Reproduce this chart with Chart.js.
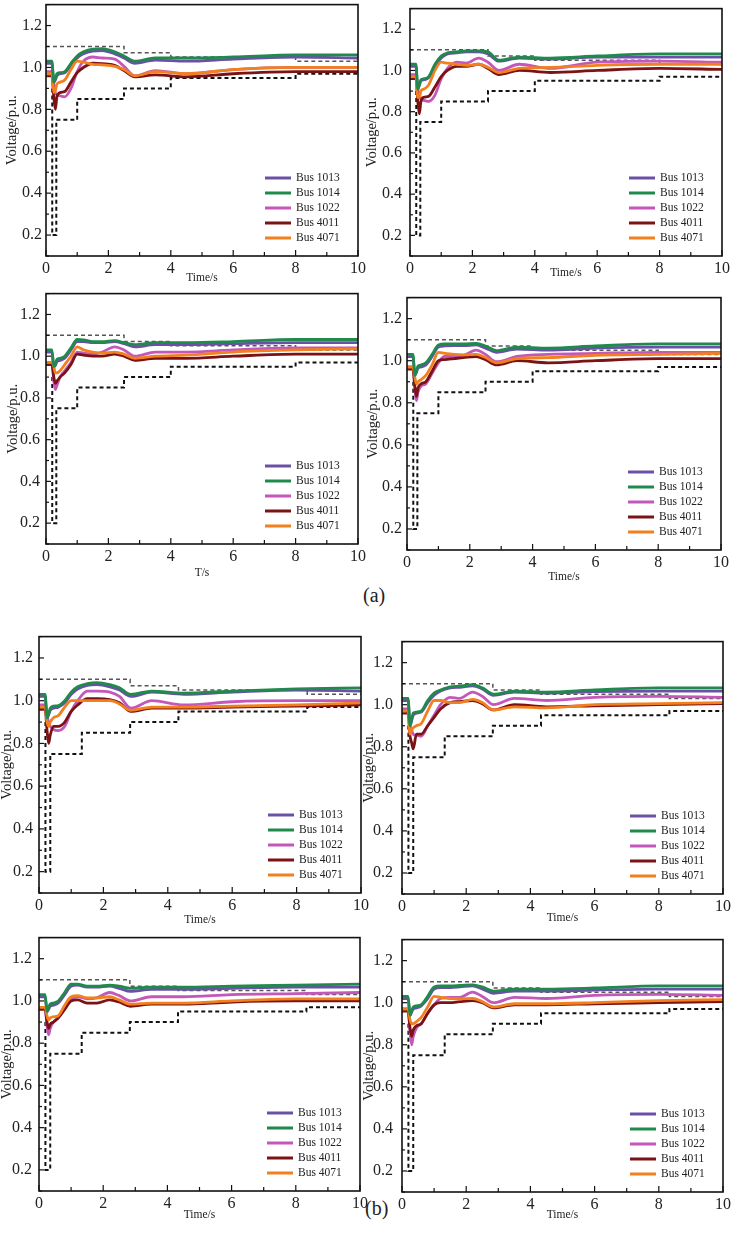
<!DOCTYPE html>
<html lang="en">
<head>
<meta charset="UTF-8">
<title>Bus voltages</title>
<script src="https://cdn.jsdelivr.net/npm/chart.js@4.4.0/dist/chart.umd.min.js"></script>
<style>
  body { margin: 0; background: #fff; }
  #wrap { position: relative; width: 733px; height: 1237px; overflow: hidden; }
  canvas { position: absolute; }
  .tag { position: absolute; font-family: "Liberation Serif", serif; font-size: 20px; color: #222; }
</style>
</head>
<body>
<div id="wrap">
  <div class="tag" style="left:363px;top:584px">(a)</div>
  <div class="tag" style="left:365px;top:1197px">(b)</div>
</div>
<script>
// common time grid (s)
const t = [0, 0.19, 0.25, 0.3, 0.35, 0.45, 0.6, 0.8, 1.0, 1.2, 1.5, 1.8, 2.2, 2.5, 2.85, 3.5, 4.5, 6, 8, 10];
const buses = ['1013', '1014', '1022', '4011', '4071'];

// (a) top left
const a1_1013 = [1.02, 1.02, 0.93, 0.94, 0.96, 0.97, 0.975, 1.01, 1.045, 1.065, 1.078, 1.08, 1.065, 1.045, 1.02, 1.035, 1.03, 1.04, 1.05, 1.045];
const a1_1014 = [1.03, 1.03, 0.93, 0.95, 0.97, 0.975, 0.98, 1.02, 1.055, 1.075, 1.088, 1.09, 1.075, 1.055, 1.03, 1.045, 1.045, 1.05, 1.06, 1.06];
const a1_1022 = [0.98, 0.98, 0.92, 0.88, 0.87, 0.865, 0.86, 0.9, 0.98, 1.03, 1.05, 1.045, 1.04, 1.005, 0.96, 0.985, 0.97, 0.99, 1.0, 1.0];
const a1_4011 = [0.96, 0.96, 0.86, 0.8, 0.86, 0.88, 0.885, 0.93, 0.975, 1.0, 1.02, 1.018, 1.01, 0.985, 0.955, 0.965, 0.955, 0.97, 0.98, 0.98];
const a1_4071 = [0.97, 0.97, 0.88, 0.89, 0.92, 0.93, 0.94, 0.99, 1.03, 1.025, 1.015, 1.012, 1.005, 0.99, 0.96, 0.98, 0.97, 0.99, 1.0, 1.0];
// (a) top right
const a2_1013 = [1.02, 1.02, 0.91, 0.93, 0.95, 0.955, 0.965, 1.02, 1.06, 1.08, 1.085, 1.09, 1.09, 1.08, 1.045, 1.06, 1.055, 1.065, 1.065, 1.065];
const a2_1014 = [1.03, 1.03, 0.91, 0.93, 0.955, 0.96, 0.97, 1.03, 1.07, 1.085, 1.09, 1.095, 1.095, 1.09, 1.05, 1.065, 1.06, 1.07, 1.08, 1.08];
const a2_1022 = [0.98, 0.98, 0.91, 0.88, 0.86, 0.855, 0.85, 0.88, 0.96, 1.01, 1.04, 1.035, 1.06, 1.04, 1.0, 1.03, 1.01, 1.04, 1.045, 1.04];
const a2_4011 = [0.96, 0.96, 0.85, 0.79, 0.85, 0.87, 0.875, 0.92, 0.97, 1.0, 1.02, 1.02, 1.03, 1.01, 0.98, 1.0, 0.99, 1.0, 1.01, 1.005];
const a2_4071 = [0.97, 0.97, 0.87, 0.87, 0.9, 0.91, 0.93, 1.0, 1.04, 1.035, 1.03, 1.025, 1.03, 1.015, 0.99, 1.01, 1.015, 1.025, 1.03, 1.03];
// (a) bottom left
const a3_1013 = [1.02, 1.02, 0.95, 0.955, 0.975, 0.98, 0.99, 1.03, 1.07, 1.07, 1.065, 1.065, 1.07, 1.06, 1.045, 1.055, 1.055, 1.06, 1.065, 1.065];
const a3_1014 = [1.03, 1.03, 0.95, 0.96, 0.985, 0.99, 1.0, 1.04, 1.08, 1.078, 1.07, 1.07, 1.075, 1.065, 1.055, 1.065, 1.065, 1.07, 1.08, 1.08];
const a3_1022 = [0.97, 0.97, 0.88, 0.84, 0.86, 0.9, 0.93, 0.97, 1.02, 1.015, 1.01, 1.02, 1.045, 1.03, 1.0, 1.02, 1.02, 1.03, 1.04, 1.04];
const a3_4011 = [0.96, 0.96, 0.9, 0.87, 0.88, 0.9, 0.92, 0.96, 1.01, 1.005, 1.0, 1.0, 1.01, 1.0, 0.98, 0.99, 0.99, 1.0, 1.01, 1.01];
const a3_4071 = [0.97, 0.97, 0.95, 0.92, 0.92, 0.93, 0.96, 1.0, 1.045, 1.03, 1.02, 1.015, 1.02, 1.01, 0.99, 1.0, 1.005, 1.02, 1.03, 1.035];
// (a) bottom right
const a4_1013 = [1.02, 1.02, 0.93, 0.945, 0.965, 0.97, 0.98, 1.02, 1.065, 1.07, 1.072, 1.072, 1.075, 1.06, 1.04, 1.055, 1.05, 1.06, 1.065, 1.065];
const a4_1014 = [1.03, 1.03, 0.93, 0.95, 0.975, 0.98, 0.99, 1.03, 1.075, 1.08, 1.08, 1.08, 1.082, 1.07, 1.048, 1.065, 1.06, 1.07, 1.08, 1.08];
const a4_1022 = [0.97, 0.97, 0.87, 0.81, 0.85, 0.88, 0.89, 0.94, 0.99, 1.02, 1.02, 1.025, 1.05, 1.03, 0.995, 1.02, 1.03, 1.035, 1.04, 1.04];
const a4_4011 = [0.96, 0.96, 0.88, 0.83, 0.87, 0.89, 0.9, 0.95, 1.0, 1.005, 1.01, 1.015, 1.02, 1.005, 0.98, 1.0, 0.99, 1.0, 1.01, 1.01];
const a4_4071 = [0.97, 0.97, 0.92, 0.89, 0.9, 0.91, 0.93, 0.98, 1.04, 1.035, 1.03, 1.028, 1.03, 1.015, 0.99, 1.01, 1.015, 1.025, 1.03, 1.035];
// (b) top left
const b1_1013 = [1.02, 1.02, 0.92, 0.935, 0.955, 0.965, 0.97, 0.99, 1.03, 1.055, 1.072, 1.075, 1.065, 1.05, 1.02, 1.04, 1.03, 1.04, 1.05, 1.045];
const b1_1014 = [1.03, 1.03, 0.92, 0.94, 0.965, 0.975, 0.977, 1.0, 1.04, 1.065, 1.08, 1.085, 1.075, 1.06, 1.03, 1.045, 1.035, 1.045, 1.055, 1.06];
const b1_1022 = [0.98, 0.98, 0.93, 0.9, 0.88, 0.865, 0.86, 0.88, 0.95, 1.0, 1.045, 1.045, 1.04, 1.02, 0.965, 1.0, 0.98, 0.995, 1.0, 1.0];
const b1_4011 = [0.96, 0.96, 0.86, 0.8, 0.84, 0.88, 0.88, 0.9, 0.95, 0.98, 1.01, 1.01, 1.005, 0.99, 0.95, 0.965, 0.965, 0.97, 0.975, 0.98];
const b1_4071 = [0.97, 0.97, 0.9, 0.88, 0.9, 0.92, 0.93, 0.97, 1.0, 1.0, 1.0, 1.0, 1.0, 0.985, 0.955, 0.97, 0.97, 0.975, 0.98, 0.99];
// (b) top right
const b2_1013 = [1.02, 1.02, 0.9, 0.925, 0.95, 0.96, 0.965, 1.01, 1.045, 1.065, 1.08, 1.083, 1.09, 1.075, 1.045, 1.06, 1.055, 1.062, 1.065, 1.065];
const b2_1014 = [1.03, 1.03, 0.9, 0.93, 0.96, 0.965, 0.97, 1.02, 1.055, 1.07, 1.085, 1.088, 1.095, 1.08, 1.05, 1.065, 1.06, 1.07, 1.08, 1.08];
const b2_1022 = [0.98, 0.98, 0.9, 0.88, 0.86, 0.855, 0.85, 0.9, 0.95, 1.0, 1.035, 1.03, 1.06, 1.04, 1.0, 1.03, 1.02, 1.035, 1.04, 1.035];
const b2_4011 = [0.96, 0.96, 0.85, 0.82, 0.79, 0.86, 0.86, 0.9, 0.94, 0.98, 1.01, 1.015, 1.02, 1.005, 0.975, 1.0, 0.99, 0.995, 1.0, 1.005];
const b2_4071 = [0.97, 0.97, 0.86, 0.88, 0.89, 0.9, 0.91, 0.97, 1.02, 1.02, 1.01, 1.01, 1.025, 1.01, 0.975, 0.99, 0.985, 1.0, 1.005, 1.01];
// (b) bottom left
const b3_1013 = [1.02, 1.02, 0.95, 0.96, 0.975, 0.98, 0.99, 1.03, 1.07, 1.075, 1.065, 1.065, 1.07, 1.06, 1.045, 1.055, 1.055, 1.06, 1.065, 1.065];
const b3_1014 = [1.03, 1.03, 0.95, 0.97, 0.985, 0.99, 1.0, 1.04, 1.08, 1.08, 1.07, 1.07, 1.075, 1.07, 1.06, 1.065, 1.065, 1.07, 1.075, 1.08];
const b3_1022 = [0.97, 0.97, 0.88, 0.84, 0.87, 0.9, 0.92, 0.97, 1.01, 1.02, 1.01, 1.015, 1.04, 1.025, 1.0, 1.02, 1.02, 1.03, 1.035, 1.04];
const b3_4011 = [0.96, 0.96, 0.9, 0.87, 0.89, 0.9, 0.92, 0.96, 1.0, 1.005, 0.99, 0.99, 1.005, 0.995, 0.975, 0.985, 0.985, 0.995, 1.0, 1.0];
const b3_4071 = [0.97, 0.97, 0.93, 0.91, 0.92, 0.925, 0.93, 0.98, 1.02, 1.025, 1.015, 1.015, 1.02, 1.005, 0.985, 0.99, 0.99, 1.0, 1.01, 1.01];
// (b) bottom right
const b4_1013 = [1.02, 1.02, 0.94, 0.955, 0.97, 0.975, 0.985, 1.02, 1.065, 1.072, 1.072, 1.075, 1.08, 1.065, 1.045, 1.055, 1.055, 1.06, 1.065, 1.065];
const b4_1014 = [1.03, 1.03, 0.94, 0.96, 0.98, 0.985, 0.99, 1.03, 1.075, 1.08, 1.08, 1.082, 1.085, 1.075, 1.055, 1.065, 1.065, 1.07, 1.08, 1.08];
const b4_1022 = [0.97, 0.97, 0.86, 0.8, 0.84, 0.88, 0.9, 0.95, 0.99, 1.02, 1.025, 1.025, 1.05, 1.03, 1.0, 1.025, 1.02, 1.035, 1.04, 1.035];
const b4_4011 = [0.96, 0.96, 0.88, 0.84, 0.87, 0.89, 0.9, 0.95, 0.99, 1.0, 1.0, 1.005, 1.01, 1.0, 0.975, 0.99, 0.99, 0.995, 1.0, 1.005];
const b4_4071 = [0.97, 0.97, 0.92, 0.9, 0.9, 0.91, 0.93, 0.98, 1.03, 1.025, 1.02, 1.018, 1.02, 1.005, 0.98, 0.995, 0.995, 1.0, 1.01, 1.015];

// voltage limit envelopes (step lines)
const lowA_t = [0.2, 0.2, 0.33, 1, 2.5, 4, 8, 10];
const lowB_t = [0.2, 0.2, 0.35, 1.33, 2.83, 4.33, 8.33, 10];
const low_v = [0.9, 0.2, 0.2, 0.75, 0.85, 0.9, 0.95, 0.97];
const upA_t = [0, 2.5, 4, 8, 10];
const upB_t = [0, 2.83, 4.33, 8.33, 10];
const up_v = [1.1, 1.1, 1.07, 1.05, 1.03];

const colors = ['#6a50a6', '#1f8a4c', '#c457ba', '#7b1214', '#f2801f'];
const drawOrder = [3, 1, 5, 4, 2];
const serif = '"Liberation Serif", "Times New Roman", serif';

const panels = [
  { box: [46, 3, 358, 256], cl: 0, xt: 'Time/s', xo: 22, yp: 4, yx: 12, v: [a1_1013, a1_1014, a1_1022, a1_4011, a1_4071], lt: lowA_t, ut: upA_t },
  { box: [410, 3, 722, 256], cl: 362, xt: 'Time/s', xo: 17, yp: 8, yx: 372, v: [a2_1013, a2_1014, a2_1022, a2_4011, a2_4071], lt: lowA_t, ut: upA_t },
  { box: [46, 290, 358, 544], cl: 0, xt: 'T/s', xo: 29, yp: 6, yx: 13, v: [a3_1013, a3_1014, a3_1022, a3_4011, a3_4071], lt: lowA_t, ut: upA_t },
  { box: [407, 295, 721, 550], cl: 362, xt: 'Time/s', xo: 27, yp: 5, yx: 373, v: [a4_1013, a4_1014, a4_1022, a4_4011, a4_4071], lt: lowA_t, ut: upA_t },
  { box: [39, 633, 361, 893], cl: 0, xt: 'Time/s', xo: 27, yp: 6, yx: 7.5, v: [b1_1013, b1_1014, b1_1022, b1_4011, b1_4071], lt: lowB_t, ut: upB_t },
  { box: [402, 635, 723, 894], cl: 362, xt: 'Time/s', xo: 24, yp: 9, yx: 369, v: [b2_1013, b2_1014, b2_1022, b2_4011, b2_4071], lt: lowB_t, ut: upB_t },
  { box: [39, 933, 360, 1191], cl: 0, xt: 'Time/s', xo: 24, yp: 7, yx: 7.5, v: [b3_1013, b3_1014, b3_1022, b3_4011, b3_4071], lt: lowB_t, ut: upB_t },
  { box: [402, 933, 723, 1192], cl: 362, xt: 'Time/s', xo: 23, yp: 9, yx: 369, v: [b4_1013, b4_1014, b4_1022, b4_4011, b4_4071], lt: lowB_t, ut: upB_t }
];

// inward tick marks + closed frame
const frameTicks = {
  id: 'frameTicks',
  afterDraw(chart) {
    const { ctx, chartArea: a, scales: { x, y } } = chart;
    ctx.save();
    ctx.strokeStyle = '#111';
    ctx.lineWidth = 1.2;
    x.ticks.forEach(tk => {
      const px = x.getPixelForValue(tk.value);
      const len = Math.round(tk.value) % 2 === 0 ? 6 : 4;
      ctx.beginPath(); ctx.moveTo(px, a.bottom); ctx.lineTo(px, a.bottom - len); ctx.stroke();
    });
    y.ticks.forEach(tk => {
      const py = y.getPixelForValue(tk.value);
      const len = Math.round(tk.value * 10) % 2 === 0 ? 5 : 3;
      ctx.beginPath(); ctx.moveTo(a.left, py); ctx.lineTo(a.left + len, py); ctx.stroke();
    });
    ctx.lineWidth = 1.6;
    ctx.strokeRect(a.left, a.top, a.width, a.height);
    ctx.restore();
  }
};

// legend inside the plot, lower right
const busLegend = {
  id: 'busLegend',
  afterDatasetsDraw(chart) {
    const { ctx, chartArea: a } = chart;
    const items = chart.data.datasets.filter(d => d.label.startsWith('Bus'));
    ctx.save();
    ctx.font = '11.5px ' + serif;
    ctx.textBaseline = 'middle';
    items.forEach((d, i) => {
      const yy = a.bottom - 18 - (items.length - 1 - i) * 15;
      ctx.strokeStyle = d.borderColor;
      ctx.lineWidth = 3;
      ctx.beginPath(); ctx.moveTo(a.right - 93, yy); ctx.lineTo(a.right - 67, yy); ctx.stroke();
      ctx.fillStyle = '#222';
      ctx.fillText(d.label, a.right - 62, yy);
    });
    ctx.restore();
  }
};

const wrap = document.getElementById('wrap');

function makePanel(p) {
  const [l, tp, r, b] = p.box;
  const cv = document.createElement('canvas');
  cv.width = r + 14 - p.cl;
  cv.height = b - tp + 12 + 34;
  cv.style.left = p.cl + 'px';
  cv.style.top = (tp - 12) + 'px';
  wrap.appendChild(cv);

  const ds = buses.map((bus, i) => ({
    label: 'Bus ' + bus,
    data: t.map((tt, k) => ({ x: tt, y: p.v[i][k] })),
    borderColor: colors[i],
    borderWidth: 2.8,
    pointRadius: 0,
    cubicInterpolationMode: 'monotone',
    order: drawOrder[i]
  }));
  ds.push({
    label: 'lower', data: p.lt.map((tt, k) => ({ x: tt, y: low_v[k] })),
    borderColor: '#111', borderWidth: 2, borderDash: [4, 3], stepped: 'after', pointRadius: 0, order: 10
  });
  ds.push({
    label: 'upper', data: p.ut.map((tt, k) => ({ x: tt, y: up_v[k] })),
    borderColor: '#555', borderWidth: 1.5, borderDash: [4, 3], stepped: 'after', pointRadius: 0, order: 11
  });

  new Chart(cv, {
    type: 'line',
    data: { datasets: ds },
    options: {
      responsive: false,
      animation: false,
      layout: { padding: { top: 12, right: 14, left: 0, bottom: 0 } },
      plugins: { legend: { display: false }, tooltip: { enabled: false } },
      scales: {
        x: {
          type: 'linear', min: 0, max: 10,
          grid: { display: false, drawTicks: false },
          border: { display: false },
          ticks: {
            stepSize: 1, autoSkip: false, maxRotation: 0, padding: 3, color: '#222',
            font: { family: serif, size: 16 },
            callback: v => (Math.round(v) % 2 === 0 ? String(v) : '')
          },
          title: {
            display: true, text: p.xt, color: '#222',
            font: { family: serif, size: 11.5 },
            padding: { top: 0, bottom: 27.1 - p.xo }
          },
          afterFit: s => { s.height = 34; }
        },
        y: {
          min: 0.1, max: 1.3,
          grid: { display: false, drawTicks: false },
          border: { display: false },
          ticks: {
            stepSize: 0.1, autoSkip: false, padding: p.yp, color: '#222',
            font: { family: serif, size: 16 },
            callback: v => {
              const k = Math.round(v * 10);
              return (k % 2 === 0 && k >= 2 && k <= 12) ? (k / 10).toFixed(1) : '';
            }
          },
          title: {
            display: true, text: 'Voltage/p.u.', color: '#222',
            font: { family: serif, size: 14.5 },
            padding: { top: p.yx - p.cl - 8.7, bottom: 0 }
          },
          afterFit: s => { s.width = l - p.cl; }
        }
      }
    },
    plugins: [frameTicks, busLegend]
  });
}

panels.forEach(makePanel);
</script>
</body>
</html>
